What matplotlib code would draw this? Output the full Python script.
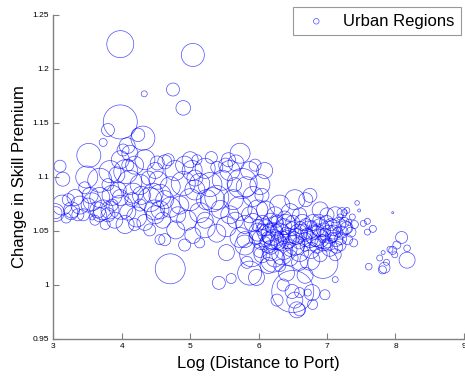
import matplotlib
matplotlib.use("Agg")
import matplotlib.pyplot as plt
import numpy as np

plt.rcParams['font.family'] = ['Liberation Sans', 'DejaVu Sans']

# log distance to port
log_dist = [
    3.98, 5.04, 4.33, 4.75, 4.90, 3.98, 3.80, 3.73, 4.24, 4.31, 4.08, 4.12, 3.52, 3.10, 3.14,
    3.49, 3.83, 4.06, 3.98, 4.19, 3.68, 5.73, 5.67, 5.76, 4.52, 4.63, 5.03, 5.22, 5.39, 5.58,
    3.03, 3.04, 3.27, 3.39, 3.13, 3.26, 3.44, 3.57, 3.65, 3.68, 3.73, 3.54, 3.32, 3.51, 3.61,
    3.19, 3.86, 3.99, 4.22, 4.17, 4.12, 4.46, 4.41, 3.90, 4.05, 4.34, 4.49, 3.80, 4.15, 3.95,
    3.57, 3.80, 4.39, 4.53, 4.56, 4.27, 4.34, 3.46, 3.76, 4.27, 4.09, 3.93, 4.02, 4.19, 3.86,
    4.71, 4.90, 5.14, 5.39, 5.63, 5.73, 5.24, 5.00, 4.71, 4.48, 4.95, 5.14, 4.60, 5.53, 5.39,
    5.73, 5.53, 5.82, 5.92, 4.79, 5.04, 5.22, 5.80, 4.85, 5.29, 5.47, 5.07, 4.78, 5.33, 5.58,
    4.63, 5.87, 5.99, 6.02, 6.09, 4.56, 5.65, 5.10, 5.56, 4.92,
    4.71, 5.42, 5.60, 5.87, 5.97, 6.21, 6.41, 6.50, 6.53, 6.56, 6.49, 6.60, 6.72, 6.79, 6.78,
    6.97, 6.27, 7.12, 6.94, 6.60, 6.36,
    5.99, 6.05, 6.10, 6.14, 6.20, 6.25, 6.29, 6.31, 6.37, 6.40, 6.44, 6.49, 6.53, 6.58, 6.64,
    6.68, 6.74, 6.80, 6.84, 6.90, 6.94, 6.99, 7.03, 7.09, 7.13, 7.17, 7.22, 6.17, 6.02, 6.60,
    6.77, 7.04, 6.24, 6.46, 6.69, 6.75, 6.53, 6.31, 6.10, 6.90, 7.12, 7.26, 5.92, 6.05, 6.14,
    6.26, 6.36, 6.43, 6.52, 6.61, 6.71, 6.83, 6.87, 6.97, 7.08, 7.16, 6.93, 6.17, 6.29, 6.40,
    6.10, 6.68, 7.01, 6.78, 6.34, 5.90, 5.80, 7.19, 7.30, 6.75, 6.60,
    7.44, 7.47, 7.29, 7.25, 7.19, 7.37, 7.53, 7.59, 7.67, 7.59, 7.39, 7.29, 7.96, 8.09, 8.02,
    7.96, 7.92, 8.17, 8.17, 7.82, 7.77, 7.87, 7.84, 7.81, 7.61, 7.99, 7.32,
    5.96, 6.06, 6.12, 6.18, 6.22, 6.27, 6.33, 6.37, 6.42, 6.46, 6.50, 6.55, 6.59, 6.65, 6.69,
    6.75, 6.81, 6.85, 6.90, 6.95, 7.00, 7.06, 7.10, 7.14, 7.20, 7.25, 6.88, 7.00, 7.22, 6.60,
    6.38, 6.17, 5.99, 6.05, 6.24, 6.46, 6.90, 7.12, 6.14, 6.31, 6.68, 7.35, 7.40, 5.83,
    4.63, 4.82, 5.07, 5.22, 5.44, 5.66, 5.52, 5.87, 5.80, 4.92, 4.41, 4.56, 3.83, 4.09, 4.29,
    3.68, 3.36, 3.22, 3.98, 4.49, 4.68, 5.00, 5.31, 5.14, 5.95, 6.05,
]

# change in skill premium
skill_change = [
    1.223, 1.213, 1.177, 1.181, 1.164, 1.151, 1.1435, 1.132, 1.139, 1.136, 1.129, 1.122, 1.120, 1.110, 1.098,
    1.100, 1.105, 1.105, 1.116, 1.111, 1.097, 1.122, 1.113, 1.094, 1.113, 1.114, 1.106, 1.108, 1.109, 1.106,
    1.067, 1.067, 1.0695, 1.074, 1.074, 1.067, 1.065, 1.063, 1.0695, 1.081, 1.0695, 1.083, 1.081, 1.074, 1.060,
    1.062, 1.083, 1.072, 1.063, 1.085, 1.095, 1.085, 1.079, 1.060, 1.056, 1.058, 1.065, 1.065, 1.079, 1.088,
    1.077, 1.093, 1.099, 1.097, 1.0695, 1.093, 1.116, 1.090, 1.056, 1.074, 1.111, 1.102, 1.125, 1.056, 1.074,
    1.091, 1.094, 1.094, 1.081, 1.079, 1.071, 1.079, 1.079, 1.072, 1.0695, 1.060, 1.067, 1.060, 1.054, 1.048,
    1.044, 1.030, 1.091, 1.082, 1.051, 1.046, 1.053, 1.056, 1.074, 1.093, 1.097, 1.099, 1.106, 1.079, 1.065,
    1.042, 1.065, 1.0695, 1.093, 1.106, 1.083, 1.093, 1.116, 1.116, 1.111,
    1.015, 1.002, 1.006, 1.011, 1.007, 1.023, 1.011, 0.994, 0.986, 0.977, 0.994, 0.993, 0.993, 0.982, 0.993,
    0.991, 0.986, 1.005, 1.020, 0.977, 1.000,
    1.049, 1.042, 1.053, 1.038, 1.047, 1.056, 1.040, 1.049, 1.032, 1.056, 1.045, 1.052, 1.037, 1.048, 1.058,
    1.042, 1.051, 1.058, 1.045, 1.053, 1.039, 1.058, 1.047, 1.053, 1.042, 1.056, 1.049, 1.030, 1.032, 1.030,
    1.032, 1.034, 1.065, 1.067, 1.079, 1.083, 1.079, 1.074, 1.0695, 1.0695, 1.065, 1.053, 1.058, 1.051, 1.044,
    1.051, 1.044, 1.038, 1.044, 1.053, 1.047, 1.040, 1.051, 1.047, 1.044, 1.049, 1.043, 1.053, 1.046, 1.049,
    1.040, 1.036, 1.039, 1.055, 1.028, 1.028, 1.037, 1.037, 1.042, 1.023, 1.021,
    1.076, 1.069, 1.069, 1.067, 1.063, 1.063, 1.057, 1.059, 1.052, 1.049, 1.039, 1.053, 1.067, 1.044, 1.037,
    1.032, 1.033, 1.034, 1.023, 1.030, 1.025, 1.021, 1.016, 1.014, 1.017, 1.028, 1.058,
    1.044, 1.058, 1.048, 1.035, 1.042, 1.059, 1.038, 1.054, 1.042, 1.033, 1.058, 1.045, 1.039, 1.049, 1.056,
    1.042, 1.049, 1.036, 1.043, 1.051, 1.037, 1.056, 1.049, 1.035, 1.043, 1.058, 1.060, 1.065, 1.067, 1.065,
    1.062, 1.060, 1.055, 1.028, 1.025, 1.025, 1.028, 1.028, 1.018, 1.018, 1.009, 1.049, 1.056, 1.021,
    1.079, 1.065, 1.088, 1.060, 1.070, 1.060, 1.111, 1.106, 1.042, 1.037, 1.051, 1.042, 1.0695, 1.0675, 1.083,
    1.065, 1.065, 1.079, 1.081, 1.106, 1.116, 1.116, 1.118, 1.039, 1.111, 1.083,
]

# region size (relative weight, drives bubble radius)
region_size = [
    13.5, 11.5, 3, 6.5, 7.3, 17, 6.5, 4, 6.7, 12, 8, 8, 12, 6, 7,
    11, 11, 12, 9, 9, 12, 10, 8, 15, 7, 7, 10, 10, 6, 10,
    9, 6, 8, 9, 10, 7, 6, 3, 8, 10, 10, 8, 8, 7, 5,
    5, 10, 12, 10, 10, 12, 10, 12, 8, 9, 8, 9, 7, 7, 8,
    9, 6, 7, 9, 9, 10, 10, 6, 5, 6, 6, 8, 6, 6, 6,
    10, 12, 10, 12, 10, 12, 10, 11, 10, 10, 10, 10, 8, 10, 9,
    10, 8, 10, 10, 9, 8, 10, 9, 9, 12, 10, 8, 10, 12, 9,
    6, 8, 10, 10, 8, 11, 7, 5, 7, 9,
    15, 6.5, 5, 12, 8, 12, 8, 21, 8, 8, 7, 5, 3.5, 5, 8,
    5, 6, 3, 15, 6, 6,
    9, 10, 8, 9, 11, 8, 8, 9, 9, 10, 8, 7, 10, 9, 8,
    7, 9, 8, 10, 9, 8, 7, 9, 8, 7, 7, 6, 8, 7, 9,
    8, 8, 8, 9, 7, 7, 10, 10, 9, 8, 8, 7, 9, 6, 6,
    6, 6, 5, 6, 6, 6, 5, 6, 6, 5, 5, 4, 5, 4, 5,
    5, 5, 5, 5, 10, 12, 10, 6, 5, 10, 8,
    2.3, 1.5, 3, 3, 3, 3, 3, 3, 3.5, 3, 4, 6, 1, 6, 4,
    4, 3, 3.3, 8, 2, 3, 3, 5.5, 4, 3.3, 3, 3,
    7, 7, 9, 7, 10, 6, 7, 8, 9, 7, 7, 8, 6, 8, 6,
    8, 7, 7, 9, 7, 6, 6, 7, 6, 6, 5, 6, 7, 5, 7,
    7, 7, 6, 8, 9, 8, 7, 6, 8, 6, 8, 5, 4, 6,
    9, 8, 10, 8, 9, 8, 7, 9, 8, 6, 6, 5, 9, 8, 9,
    7, 6, 6, 8, 8, 6, 8, 6, 5, 6, 7,
]

x_ticks = [3, 4, 5, 6, 7, 8, 9]
y_ticks = [0.95, 1.0, 1.05, 1.1, 1.15, 1.2, 1.25]
y_tick_labels = ['0.95', '1', '1.05', '1.1', '1.15', '1.2', '1.25']

W, H = 465, 377
fig = plt.figure(figsize=(W / 100, H / 100), dpi=100)
ax = fig.add_axes([53.2 / W, 38 / H, 410.7 / W, 324 / H])

sizes = (1.44 * np.array(region_size)) ** 2
ax.scatter(log_dist, skill_change, s=sizes, facecolors='none',
           edgecolors=(0, 0, 1, 0.7), linewidths=0.5, label='Urban Regions')

ax.set_xlim(3, 9)
ax.set_ylim(0.95, 1.25)
ax.set_xticks(x_ticks)
ax.set_xticklabels([str(t) for t in x_ticks])
ax.set_yticks(y_ticks)
ax.set_yticklabels(y_tick_labels)
ax.tick_params(direction='in', length=4, width=0.8, colors='#808080',
               labelcolor='black', labelsize=6, pad=3)
for side in ['top', 'right']:
    ax.spines[side].set_visible(False)
for side in ['left', 'bottom']:
    ax.spines[side].set_color('#808080')
    ax.spines[side].set_linewidth(1.0)

ax.set_xlabel('Log (Distance to Port)', fontsize=12, labelpad=4)
ax.set_ylabel('Change in Skill Premium', fontsize=12, labelpad=4)

leg = ax.legend(loc='upper right', bbox_to_anchor=(461 / W, 1 - 7 / H),
                bbox_transform=fig.transFigure, fontsize=12, frameon=True,
                fancybox=False, borderpad=0.4, handletextpad=0.6,
                markerscale=1.0, borderaxespad=0)
leg.get_frame().set_edgecolor('#808080')
leg.get_frame().set_linewidth(0.8)
for h in leg.legend_handles:
    h.set_sizes([16])

fig.savefig('out.png', dpi=100)
